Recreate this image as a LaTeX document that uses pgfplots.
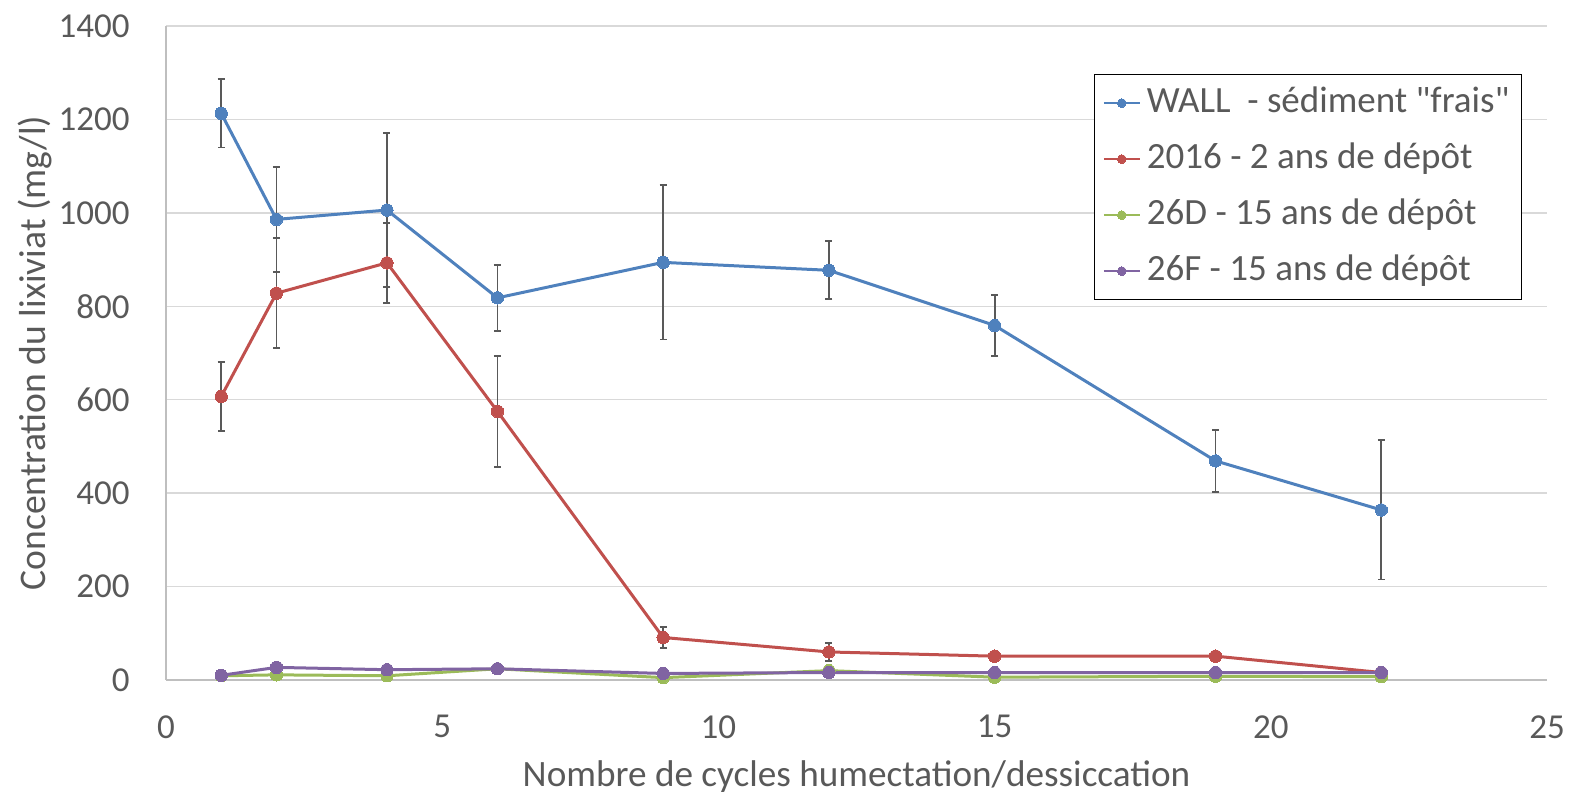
\documentclass[border=0pt]{standalone}
\usepackage{pgfplots}
\pgfplotsset{compat=1.18}
\usepackage{pgfplotstable}
\usepackage{fontspec}
\setmainfont{Carlito}
% same face without TeX ligatures, for straight quotation marks
\newfontfamily\plainfont{Carlito}

\definecolor{cWall}{HTML}{4F81BD}
\definecolor{cRed}{HTML}{C0504D}
\definecolor{cGreen}{HTML}{9BBB59}
\definecolor{cPurple}{HTML}{8064A2}
\definecolor{txtgray}{HTML}{595959}
\definecolor{gridgray}{HTML}{D9D9D9}
\definecolor{axisgray}{HTML}{BFBFBF}
\definecolor{errgray}{HTML}{595959}

% cycles, concentration (mg/l), standard deviation
\pgfplotstableread{
x    y     e
1    1213  73
2    986   112
4    1006  165
6    818   71
9    894   165
12   877   62
15   759   65
19   469   67
22   364   149
}\wall
\pgfplotstableread{
x    y     e
1    607   74
2    828   118
4    893   86
6    575   119
9    91    23
12   60    20
15   51    0
19   51    0
22   16    0
}\deux
\pgfplotstableread{
x    y
1    9
2    11
4    9
6    24
9    5
12   20
15   6
19   8
22   7
}\dD
\pgfplotstableread{
x    y
1    10
2    27
4    22
6    24
9    14
12   16
15   16
19   16
22   16
}\dF

\pgfplotsset{
  serie/.style={color=#1, line width=1.5pt, mark=*, mark size=3.1pt,
    mark options={fill=#1, draw=#1, line width=0pt, solid}},
  errs/.style={error bars/.cd, y dir=both, y explicit,
    error bar style={errgray, line width=0.9pt},
    error mark options={errgray, rotate=90, mark size=1.75pt, line width=0.9pt}},
}

\begin{document}
\begin{tikzpicture}
\useasboundingbox (0,0) rectangle (785pt,398pt);
\begin{axis}[
  at={(83pt,58pt)}, anchor=south west,
  width=690.5pt, height=327pt, scale only axis,
  xmin=0, xmax=25, ymin=0, ymax=1400,
  xtick={0,5,...,25}, ytick={0,200,...,1400},
  axis x line=bottom, axis y line=left,
  axis line style={draw=axisgray, line width=0.75pt, -},
  major tick length=0pt,
  ymajorgrids, grid style={draw=gridgray, line width=0.75pt},
  /pgf/number format/assume math mode=true,
  /pgf/number format/1000 sep={},
  ticklabel style={font=\fontsize{17.5}{21}\selectfont, text=txtgray},
  xticklabel style={anchor=north, inner sep=0pt, yshift=-17.5pt},
  yticklabel style={anchor=east, inner sep=0pt, xshift=-18pt},
  xlabel={Nombre de cycles humectation/dessiccation},
  ylabel={Concentration du lixiviat (mg/l)},
  every axis x label/.style={at={(axis description cs:0.5,-0.147)}, anchor=center,
    font=\fontsize{18.6}{22}\selectfont, text=txtgray},
  every axis y label/.style={at={(axis description cs:-0.095,0.5)}, anchor=center, rotate=90,
    font=\fontsize{18.8}{22}\selectfont, text=txtgray},
  legend cell align=left,
  legend style={at={(axis description cs:0.672,0.9266)}, anchor=north west,
    draw=black, line width=0.65pt, fill=white,
    font=\fontsize{18.5}{22}\selectfont, text=txtgray,
    inner xsep=4pt, inner ysep=3.5pt, row sep=6.5pt, column sep=1pt,
    nodes={text height=13.5pt, text depth=4pt, inner sep=2pt}},
  legend image code/.code={%
    \draw[#1, line width=1.1pt, mark=none] (0pt,0pt) -- (18pt,0pt);
    \draw[#1, mark size=2.2pt] plot coordinates {(9pt,0pt)};
  },
]
\addplot[serie=cWall, errs] table[x=x, y=y, y error=e] {\wall};
\addlegendentry{WALL\ \ - sédiment {\plainfont"}frais{\plainfont"}}
\addplot[serie=cRed, errs] table[x=x, y=y, y error=e] {\deux};
\addlegendentry{2016 - 2 ans de dépôt}
\addplot[serie=cGreen] table[x=x, y=y] {\dD};
\addlegendentry{26D - 15 ans de dépôt}
\addplot[serie=cPurple] table[x=x, y=y] {\dF};
\addlegendentry{26F - 15 ans de dépôt}
\end{axis}
\end{tikzpicture}
\end{document}
